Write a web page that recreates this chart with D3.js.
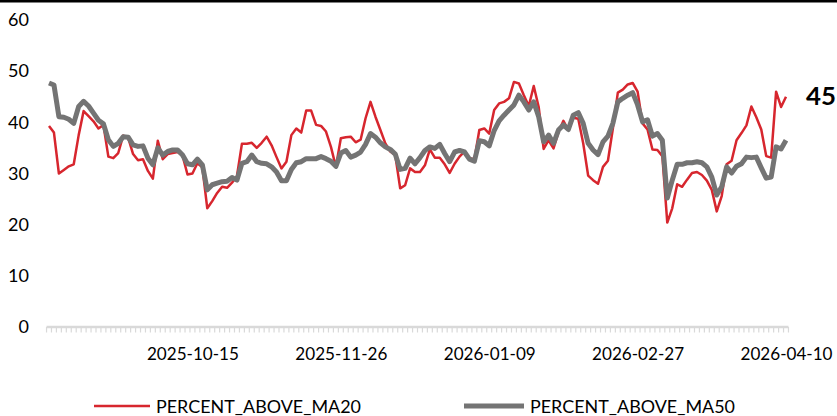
<!DOCTYPE html>
<html><head><meta charset="utf-8">
<script src="https://cdn.jsdelivr.net/npm/d3@7"></script>
<style>
html,body{margin:0;padding:0;background:#fff;}
svg{display:block;}
text{font-family:Lato,"Open Sans",sans-serif;fill:#000;}
</style></head>
<body>
<svg id="chart" width="837" height="416"></svg>
<script>
const seriesNames = ["PERCENT_ABOVE_MA20", "PERCENT_ABOVE_MA50"];
const ma20 = [39.3,38.0,30.0,30.7,31.4,31.8,37.5,42.2,41.2,40.2,38.8,39.5,33.3,33.0,34.0,37.4,37.0,33.8,32.6,32.8,
30.5,29.0,36.4,32.8,33.8,34.0,34.2,33.5,29.8,30.0,32.0,31.2,23.2,24.6,26.2,27.4,27.2,28.2,29.5,35.8,
35.8,36.0,35.0,36.0,37.2,35.5,33.2,31.0,32.3,37.5,38.8,38.0,42.3,42.3,39.5,39.3,38.2,35.2,31.3,36.9,
37.1,37.2,36.1,36.6,40.8,44.0,41.1,38.5,35.9,34.3,33.6,27.1,27.7,31.0,30.3,30.3,31.6,34.7,33.1,33.1,
31.8,30.1,31.9,33.3,34.3,33.0,32.8,38.5,38.8,37.8,42.4,43.7,44.0,44.7,47.9,47.6,45.3,43.2,47.1,43.0,
34.8,36.5,34.9,38.1,40.3,38.5,40.9,40.7,35.9,29.6,28.7,28.0,31.3,32.5,38.8,45.8,46.4,47.4,47.7,46.0,
39.8,38.6,34.7,34.6,33.4,20.4,23.2,27.9,27.4,28.8,30.1,30.3,29.7,28.6,26.8,22.6,25.6,31.8,32.5,36.5,
37.9,39.4,43.1,41.0,38.6,33.4,33.1,46.0,43.0,45.0];
const ma50 = [47.7,47.3,41.1,41.0,40.6,39.8,43.1,44.1,43.2,41.8,40.4,39.7,36.6,35.3,35.9,37.2,37.1,35.6,35.3,35.4,
33.0,31.7,35.0,33.6,34.3,34.6,34.6,33.6,31.9,31.7,32.8,31.7,26.8,27.8,28.1,28.4,28.5,29.2,28.7,32.0,
32.3,33.6,32.3,32.0,31.9,31.3,30.3,28.6,28.6,30.8,32.1,32.3,32.9,32.9,32.9,33.3,32.9,32.4,31.4,34.0,
34.5,33.2,33.6,34.2,35.7,37.8,37.1,36.0,35.2,34.7,33.8,30.8,31.0,33.0,31.9,33.1,34.5,35.2,34.9,35.7,
33.9,32.3,34.2,34.5,34.2,32.8,32.4,36.4,36.2,35.4,38.4,40.3,41.4,42.4,43.4,45.3,44.0,42.4,44.0,41.1,
36.2,37.5,35.9,38.5,39.5,38.6,41.4,41.9,39.8,35.9,34.6,33.7,36.2,37.3,39.8,44.0,44.7,45.3,45.8,43.4,
40.1,40.5,37.3,37.8,36.5,25.2,28.7,31.8,31.8,32.1,32.1,32.3,32.1,31.3,29.3,25.8,27.4,31.3,30.1,31.4,
31.9,33.2,33.1,33.2,31.1,29.1,29.3,35.2,34.8,36.5];
const tickLabels = ["2025-10-15","2025-11-26","2026-01-09","2026-02-27","2026-04-10"];
const tickIndex = [29,59,89,119,149];
const yTicks = [0,10,20,30,40,50,60];
const lastLabel = "45";

const svg = d3.select("#chart");
const n = ma20.length;
const x = d3.scaleLinear().domain([0, n - 1]).range([49, 786]);
const y = d3.scaleLinear().domain([0, 60]).range([327, 20]);

// top black border
svg.append("rect").attr("x",0).attr("y",0).attr("width",837).attr("height",2.5).attr("fill","#000");

// y axis labels
const ya = svg.append("g").attr("transform","translate(29,0)")
  .call(d3.axisLeft(y).tickValues(yTicks).tickSize(0).tickPadding(0));
ya.select(".domain").remove();
ya.selectAll("text").attr("font-family","Lato").attr("font-size",18).attr("fill","#000");

// x axis baseline with minor ticks
const axisG = svg.append("g");
axisG.selectAll("line.minor").data(d3.range(-0.5, n + 0.5, 1)).join("line")
  .attr("x1", d => x(d)).attr("x2", d => x(d))
  .attr("y1", y(0)).attr("y2", y(0) + 5.5)
  .attr("stroke","#d9d9d9").attr("stroke-width",1.2);
axisG.append("line").attr("x1", x(-0.5)).attr("x2", x(n - 0.5))
  .attr("y1", y(0)).attr("y2", y(0)).attr("stroke","#d9d9d9").attr("stroke-width",2.5);

// x labels
const xa = svg.append("g").attr("transform",`translate(0,${y(0)})`)
  .call(d3.axisBottom(x).tickValues(tickIndex).tickFormat((d,i) => tickLabels[i]).tickSize(0).tickPadding(20));
xa.select(".domain").remove();
xa.selectAll("text").attr("font-family","Lato").attr("font-size",18).attr("fill","#000")
  .attr("textLength",92).attr("lengthAdjust","spacingAndGlyphs");

// lines
const line = d3.line().x((d,i) => x(i)).y(d => y(d));
svg.append("path").datum(ma20).attr("d", line).attr("fill","none")
  .attr("stroke","#d7262e").attr("stroke-width",2.5).attr("stroke-linejoin","round");
svg.append("path").datum(ma50).attr("d", line).attr("fill","none")
  .attr("stroke","#747474").attr("stroke-width",5).attr("stroke-linejoin","round");

// last value label
svg.append("text").attr("x", 806).attr("y", y(ma20[n-1]) + 8)
  .attr("font-family","Lato").attr("font-weight","bold").attr("font-size",25)
  .attr("textLength",30).attr("lengthAdjust","spacingAndGlyphs").text(lastLabel);

// legend
const leg = svg.append("g");
const legItems = [
  {name: seriesNames[0], color:"#d7262e", w:2.5, x1:94, x2:150, tx:156},
  {name: seriesNames[1], color:"#747474", w:5, x1:464, x2:524, tx:530}
];
legItems.forEach(it => {
  leg.append("line").attr("x1",it.x1).attr("x2",it.x2).attr("y1",406).attr("y2",406)
    .attr("stroke",it.color).attr("stroke-width",it.w);
  leg.append("text").attr("x",it.tx).attr("y",413).attr("font-family","Lato").attr("font-size",18)
    .attr("textLength",205).attr("lengthAdjust","spacingAndGlyphs").text(it.name);
});
</script>
</body></html>
